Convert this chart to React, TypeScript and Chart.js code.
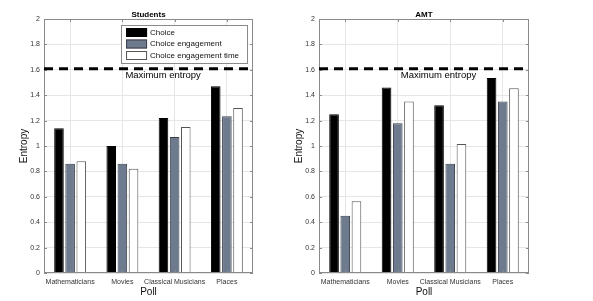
import React, { useEffect, useRef } from 'react';
import { Chart, registerables } from 'chart.js';

Chart.register(...registerables);

const FONT = "'Liberation Sans', Arial, Helvetica, sans-serif";

const categories = ['Mathematicians', 'Movies', 'Classical Musicians', 'Places'];
const seriesLabels = ['Choice', 'Choice engagement', 'Choice engagement time'];
const seriesColors = ['#000000', '#6e7a8e', '#ffffff'];
const seriesBorders = ['#000000', '#3a3f48', '#555555'];

const studentsChoice = [1.14, 1.0, 1.22, 1.47];
const studentsEngagement = [0.86, 0.86, 1.07, 1.235];
const studentsTime = [0.88, 0.82, 1.15, 1.3];

const amtChoice = [1.25, 1.46, 1.32, 1.535];
const amtEngagement = [0.45, 1.18, 0.86, 1.35];
const amtTime = [0.565, 1.35, 1.015, 1.455];

const maxEntropy = 1.609;
const maxEntropyLabel = 'Maximum entropy';
const maxEntropyLabelY = 1.56;
const yMin = 0;
const yMax = 2;
const yStep = 0.2;
const xTitle = 'Poll';
const yTitle = 'Entropy';

const overlay = {
  id: 'overlay',
  afterDraw(chart: any, _args: any, opts: any) {
    const { ctx, chartArea: a, scales } = chart;
    const x = scales.x;
    const y = scales.y;
    ctx.save();
    // box
    ctx.strokeStyle = '#8a8a8a';
    ctx.lineWidth = 1;
    ctx.strokeRect(a.left + 0.5, a.top + 0.5, a.right - a.left - 1, a.bottom - a.top - 1);
    // inward ticks
    ctx.beginPath();
    y.ticks.forEach((t: any) => {
      const py = Math.round(y.getPixelForValue(t.value)) + 0.5;
      ctx.moveTo(a.left, py); ctx.lineTo(a.left + 3, py);
      ctx.moveTo(a.right, py); ctx.lineTo(a.right - 3, py);
    });
    categories.forEach((_c, i) => {
      const px = Math.round(x.getPixelForValue(i)) + 0.5;
      ctx.moveTo(px, a.top); ctx.lineTo(px, a.top + 3);
      ctx.moveTo(px, a.bottom); ctx.lineTo(px, a.bottom - 3);
    });
    ctx.stroke();
    // max entropy dashed line
    const yy = y.getPixelForValue(maxEntropy);
    ctx.setLineDash([9, 6]);
    ctx.lineWidth = 3;
    ctx.strokeStyle = '#000';
    ctx.beginPath();
    ctx.moveTo(a.left, yy);
    ctx.lineTo(a.right, yy);
    ctx.stroke();
    ctx.setLineDash([]);
    ctx.font = `9.5px ${FONT}`;
    ctx.fillStyle = '#000';
    ctx.textAlign = 'left';
    ctx.textBaseline = 'middle';
    ctx.fillText(maxEntropyLabel, x.getPixelForValue(1) + 3, y.getPixelForValue(maxEntropyLabelY));
    // title
    ctx.font = `bold 8px ${FONT}`;
    ctx.textAlign = 'center';
    ctx.fillText(opts.title, (a.left + a.right) / 2, 14.5);
    // legend
    if (opts.legend) {
      ctx.font = `8px ${FONT}`;
      const ds = chart.data.datasets;
      let tw = 0;
      ds.forEach((d: any) => { tw = Math.max(tw, ctx.measureText(d.label).width); });
      const w = 5 + 21 + 3 + tw + 8;
      const right = a.right - 6;
      const left = right - w;
      const top = a.top + 6;
      const rowH = 11.5;
      const h = rowH * ds.length + 3;
      ctx.fillStyle = '#fff';
      ctx.fillRect(left, top, w, h);
      ctx.strokeStyle = '#8a8a8a';
      ctx.lineWidth = 1;
      ctx.strokeRect(Math.round(left) + 0.5, Math.round(top) + 0.5, Math.round(w), Math.round(h));
      ds.forEach((d: any, i: number) => {
        const cy = top + 7.5 + i * rowH;
        ctx.fillStyle = d.backgroundColor;
        ctx.fillRect(left + 5, cy - 4.5, 21, 9);
        ctx.strokeStyle = d.borderColor;
        ctx.strokeRect(left + 5.5, cy - 4, 20, 8);
        ctx.fillStyle = '#111';
        ctx.textAlign = 'left';
        ctx.textBaseline = 'middle';
        ctx.fillText(d.label, left + 29, cy);
      });
    }
    ctx.restore();
  },
};

function buildConfig(title: string, values: number[][], legend: boolean, padLeft: number, padRight: number): any {
  return {
    type: 'bar',
    data: {
      labels: categories,
      datasets: values.map((v, i) => ({
        label: seriesLabels[i],
        data: v,
        backgroundColor: seriesColors[i],
        borderColor: seriesBorders[i],
        borderWidth: 1,
        categoryPercentage: 0.64,
        barPercentage: 0.86,
      })),
    },
    options: {
      responsive: false,
      animation: false,
      layout: { padding: { left: padLeft, right: padRight, top: 19, bottom: 0 } },
      plugins: {
        legend: { display: false },
        title: { display: false },
        tooltip: { enabled: false },
        overlay: { title, legend },
      },
      scales: {
        x: {
          offset: true,
          grid: { offset: false, color: '#e6e6e6', drawTicks: false },
          border: { display: false },
          ticks: {
            autoSkip: false,
            maxRotation: 0,
            minRotation: 0,
            padding: 5,
            color: '#333',
            font: { family: FONT, size: 7 },
          },
          title: {
            display: true,
            text: xTitle,
            color: '#111',
            font: { family: FONT, size: 10 },
            padding: { top: 0, bottom: 3 },
          },
          afterFit: (s: any) => { s.height = 28; },
        },
        y: {
          min: yMin,
          max: yMax,
          grid: { color: '#e6e6e6', drawTicks: false },
          border: { display: false },
          ticks: {
            stepSize: yStep,
            padding: 4,
            color: '#333',
            font: { family: FONT, size: 7 },
            callback: (v: any) => String(Number(Number(v).toFixed(1))),
          },
          title: {
            display: true,
            text: yTitle,
            color: '#111',
            font: { family: FONT, size: 10 },
            padding: { top: 4, bottom: 0 },
          },
          afterFit: (s: any) => { s.width = 30; },
        },
      },
    },
    plugins: [overlay],
  };
}

function ChartCanvas({ config, left, width }: { config: any; left: number; width: number }) {
  const ref = useRef<HTMLCanvasElement | null>(null);
  useEffect(() => {
    if (!ref.current) return;
    const c = new Chart(ref.current, config);
    return () => c.destroy();
  }, []);
  return (
    <canvas
      ref={ref}
      width={width}
      height={301}
      style={{ position: 'absolute', left, top: 0, width, height: 301 }}
    />
  );
}

export default function App() {
  useEffect(() => {
    document.body.style.margin = '0';
  }, []);
  const leftCfg = buildConfig('Students', [studentsChoice, studentsEngagement, studentsTime], true, 14, 27);
  const rightCfg = buildConfig('AMT', [amtChoice, amtEngagement, amtTime], false, 9, 64);
  return (
    <div style={{ position: 'absolute', left: 0, top: 0, width: 593, height: 301, background: '#fff' }}>
      <ChartCanvas config={leftCfg} left={0} width={280} />
      <ChartCanvas config={rightCfg} left={280} width={313} />
    </div>
  );
}
